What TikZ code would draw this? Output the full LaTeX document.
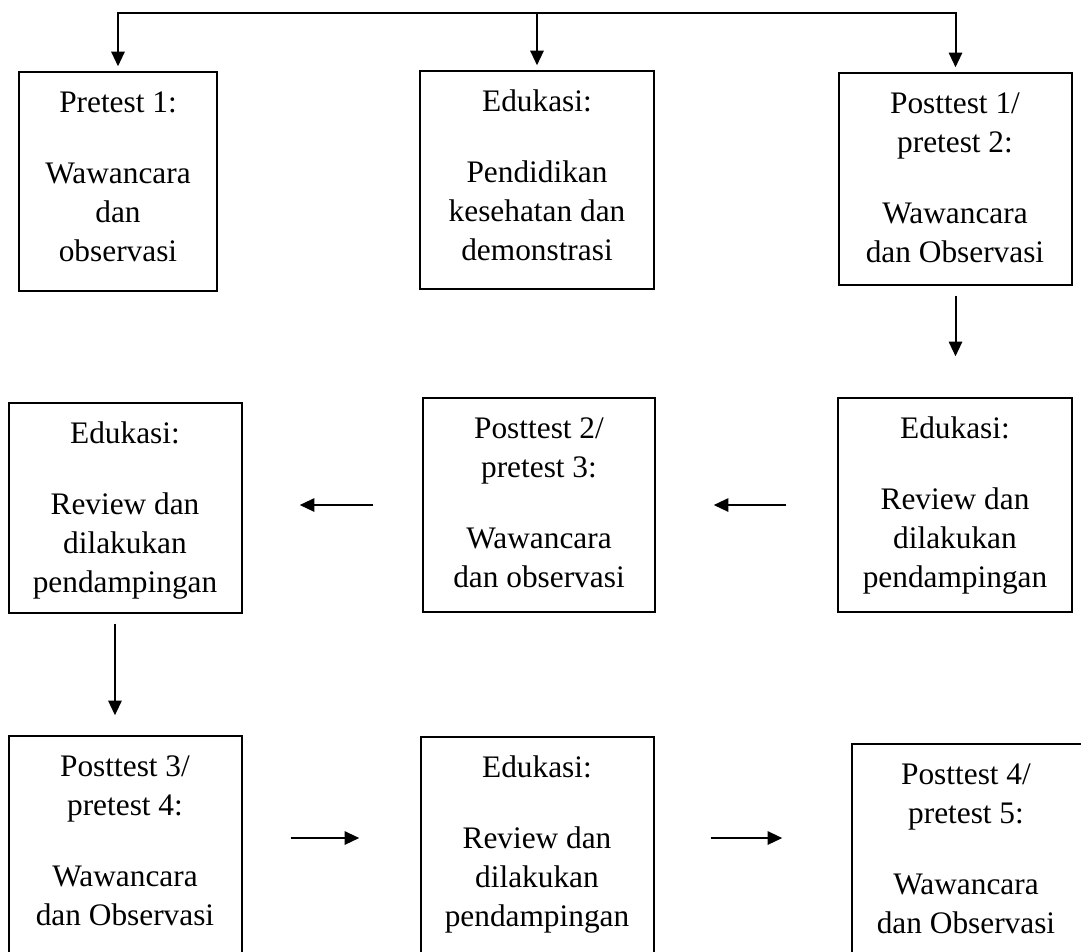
\documentclass[tikz,border=0pt]{standalone}
\usepackage{fontspec}
\setmainfont{Liberation Serif}
\usetikzlibrary{arrows.meta,fit}
\newcommand{\boxtext}[1]{\begin{tabular}[t]{@{}c@{}}#1\end{tabular}}
\begin{document}
\begin{tikzpicture}[x=0.75pt,y=-0.75pt,
  box/.style={draw=black, line width=1.1pt, inner sep=0pt},
  txt/.style={inner sep=0pt, anchor=base, font=\fontsize{23.5pt}{29.25pt}\selectfont},
  conn/.style={line width=1.5pt},
  arr/.style={line width=1.5pt, -{Triangle[length=11pt,width=10pt]}}]
\useasboundingbox (0,0) rectangle (1081,951);
% boxes
\node[box, fit={(19,72) (217,291)}] (b1) {};
\node[box, fit={(420,71) (654,289)}] (b2) {};
\node[box, fit={(839,73) (1072,285)}] (b3) {};
\node[box, fit={(9,403) (242,613)}] (b4) {};
\node[box, fit={(423,398) (655,612)}] (b5) {};
\node[box, fit={(838,398) (1072,612)}] (b6) {};
\node[box, fit={(9,736) (242,965)}] (b7) {};
\node[box, fit={(421,737) (654,965)}] (b8) {};
\node[box, fit={(852,744) (1095,965)}] (b9) {};
% texts
\node[txt] (t1) at (118,112) {\boxtext{Pretest 1:\\[24pt] Wawancara\\ dan\\ observasi}};
\node[txt] (t2) at (537,111) {\boxtext{Edukasi:\\[24pt] Pendidikan\\ kesehatan dan\\ demonstrasi}};
\node[txt] (t3) at (955,113) {\boxtext{Posttest 1/\\ pretest 2:\\[24pt] Wawancara\\ dan Observasi}};
\node[txt] (t4) at (125,443) {\boxtext{Edukasi:\\[24pt] Review dan\\ dilakukan\\ pendampingan}};
\node[txt] (t5) at (539,438) {\boxtext{Posttest 2/\\ pretest 3:\\[24pt] Wawancara\\ dan observasi}};
\node[txt] (t6) at (955,438) {\boxtext{Edukasi:\\[24pt] Review dan\\ dilakukan\\ pendampingan}};
\node[txt] (t7) at (125,776) {\boxtext{Posttest 3/\\ pretest 4:\\[24pt] Wawancara\\ dan Observasi}};
\node[txt] (t8) at (537,777) {\boxtext{Edukasi:\\[24pt] Review dan\\ dilakukan\\ pendampingan}};
\node[txt] (t9) at (966,784) {\boxtext{Posttest 4/\\ pretest 5:\\[24pt] Wawancara\\ dan Observasi}};
% connectors
\coordinate (top) at (537,13);
\coordinate (r3) at (0,838);
\draw[arr, shorten >=3.75pt] (top) -| (b1.north);
\draw[arr, shorten >=3.75pt] (top) -| (b3.north);
\draw[arr, shorten >=3.75pt] (top) -- (b2.north);
\draw[arr, shorten <=7.5pt, shorten >=30.75pt] (b3.south) -- (b3.south |- b6.north);
\draw[arr, shorten <=38.25pt, shorten >=43.5pt] (b6.west) -- (b6.west -| b5.east);
\draw[arr, shorten <=36.75pt, shorten >=42.75pt] (b5.west) -- (b5.west -| b4.east);
\draw[arr, shorten <=7.5pt, shorten >=15pt] ([xshift=-7.9pt]b4.south) -- ([xshift=-7.9pt]b4.south |- b7.north);
\draw[arr, shorten <=36pt, shorten >=45.75pt] (b7.east |- r3) -- (b8.west |- r3);
\draw[arr, shorten <=42pt, shorten >=51.75pt] (b8.east |- r3) -- (b9.west |- r3);
\end{tikzpicture}
\end{document}
